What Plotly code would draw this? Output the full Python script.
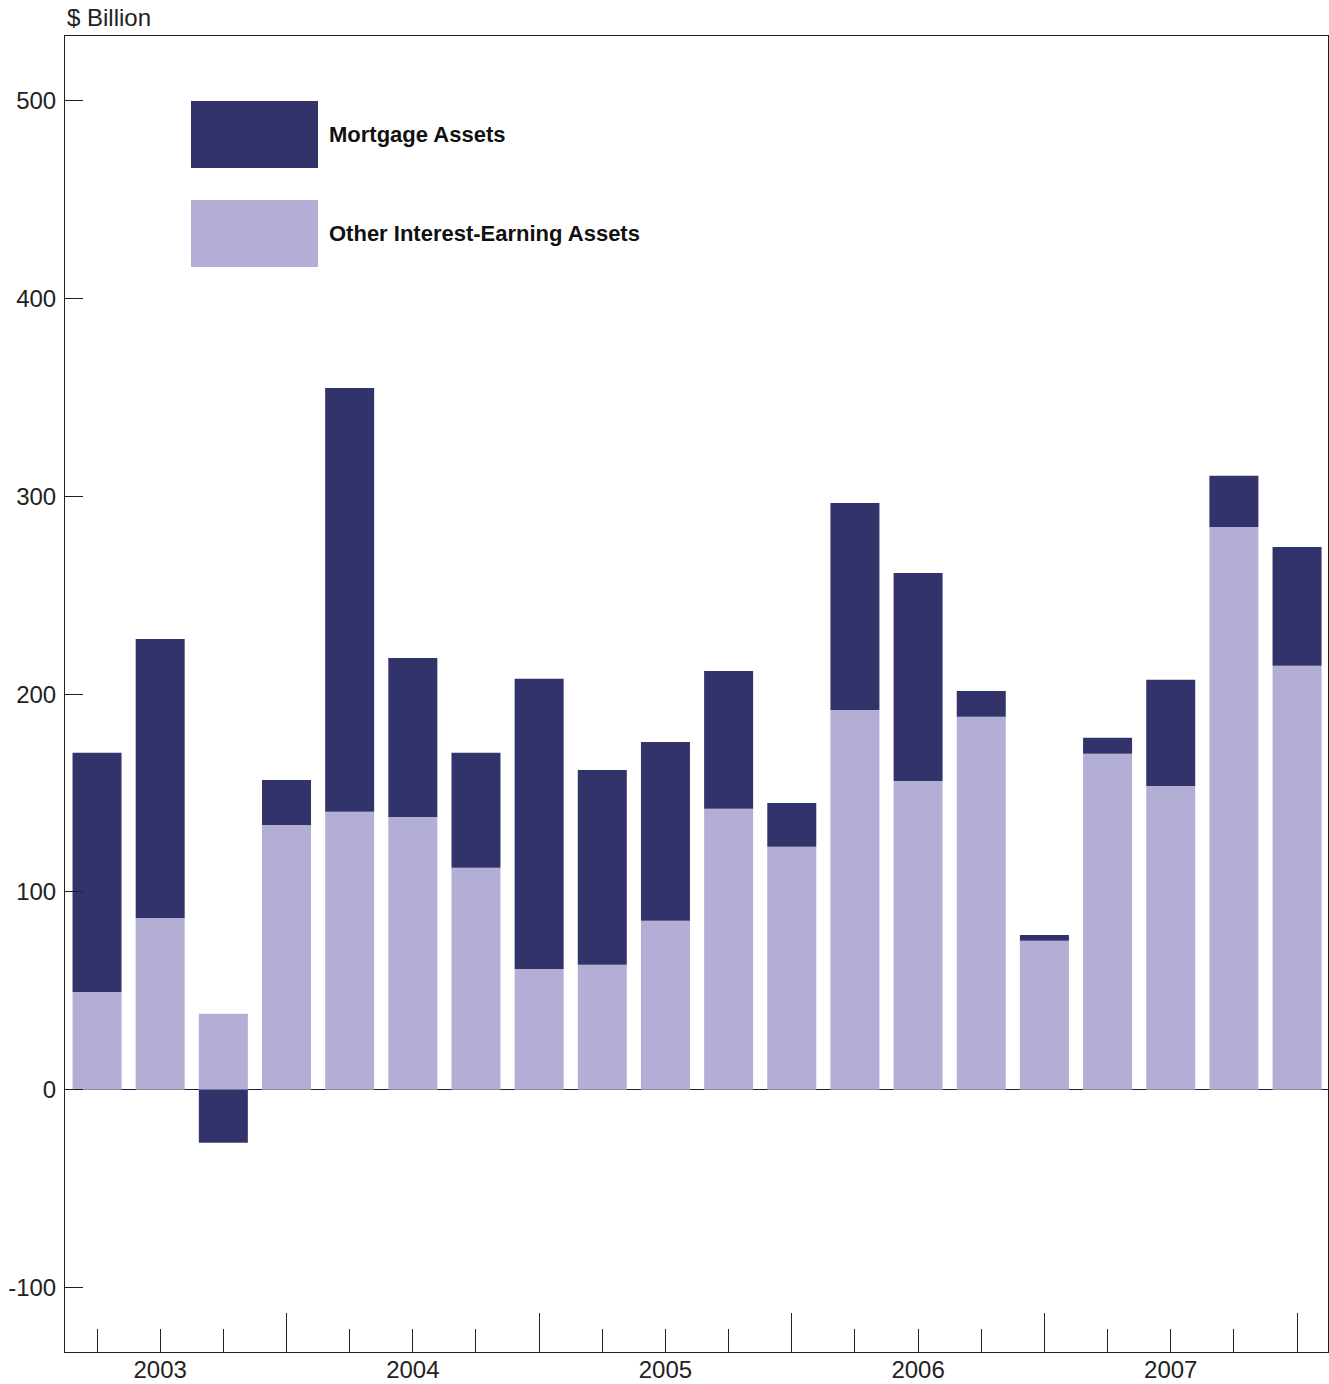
import plotly.graph_objects as go

quarters = ["2003Q1", "2003Q2", "2003Q3", "2003Q4",
            "2004Q1", "2004Q2", "2004Q3", "2004Q4",
            "2005Q1", "2005Q2", "2005Q3", "2005Q4",
            "2006Q1", "2006Q2", "2006Q3", "2006Q4",
            "2007Q1", "2007Q2", "2007Q3", "2007Q4"]
other_assets = [49.5, 86.9, 38.4, 133.9, 140.5, 137.9, 112.2, 61.1, 63.2, 85.4,
                142.0, 122.8, 192.0, 156.1, 188.5, 75.3, 169.8, 153.6, 284.5, 214.3]
mortgage_assets = [120.8, 141.0, -26.8, 22.7, 214.2, 80.4, 58.1, 146.6, 98.5, 90.4,
                   69.7, 22.2, 104.6, 105.1, 13.1, 3.0, 8.1, 53.6, 25.8, 60.1]
years = ["2003", "2004", "2005", "2006", "2007"]
y_ticks = [-100, 0, 100, 200, 300, 400, 500]
y_tick_text = ["-100", "0", "100", "200", "300", "400", "500"]

DARK = "#33336b"
LIGHT = "#b3aed6"
AXIS = "#222222"
FONT = "Liberation Sans, Arial, sans-serif"

x = list(range(len(quarters)))

fig = go.Figure()
fig.add_trace(go.Bar(x=x, y=other_assets, name="Other Interest-Earning Assets",
                     marker=dict(color=LIGHT, line=dict(width=0)),
                     customdata=quarters, hovertemplate="%{customdata}: %{y}<extra></extra>"))
fig.add_trace(go.Bar(x=x, y=mortgage_assets, name="Mortgage Assets",
                     marker=dict(color=DARK, line=dict(width=0)),
                     customdata=quarters, hovertemplate="%{customdata}: %{y}<extra></extra>"))

# x ticks: short ticks at non-Q4 quarters, long ticks at Q4 quarters, labels at Q2
major_vals = [i for i, q in enumerate(quarters) if not q.endswith("Q4")]
major_text = [q[:4] if q.endswith("Q2") else "" for q in quarters if not q.endswith("Q4")]
q4_vals = [i for i, q in enumerate(quarters) if q.endswith("Q4")]

fig.update_layout(
    width=1329, height=1384,
    margin=dict(l=65, r=1, t=36, b=32),
    paper_bgcolor="white", plot_bgcolor="white",
    barmode="relative", bargap=0.224,
    showlegend=False,
    font=dict(family=FONT, size=24, color="#222222"),
    xaxis=dict(range=[-0.507, 19.49], showgrid=False, zeroline=False,
               showline=True, linecolor=AXIS, linewidth=1, mirror=True,
               tickmode="array", tickvals=major_vals, ticktext=major_text,
               ticks="inside", ticklen=23, tickwidth=1, tickcolor=AXIS,
               ticklabelstandoff=-4,
               tickfont=dict(size=24, color="#222222"),
               minor=dict(tickmode="array", tickvals=q4_vals, ticks="inside",
                          ticklen=39, tickwidth=1, tickcolor=AXIS, showgrid=False)),
    yaxis=dict(range=[-132.5, 532.6], showgrid=False,
               zeroline=True, zerolinecolor=AXIS, zerolinewidth=1,
               showline=True, linecolor=AXIS, linewidth=1, mirror=True,
               tickmode="array", tickvals=y_ticks, ticktext=y_tick_text,
               ticks="inside", ticklen=18, tickwidth=1, tickcolor=AXIS,
               ticklabelstandoff=3,
               tickfont=dict(size=24, color="#222222")),
)

# custom legend (large swatches as in original)
def px_x(p):
    return (p - 65) / 1263.0

def px_y(p):
    return (1352 - p) / 1316.0

legend_items = [("Mortgage Assets", DARK, 101, 168), ("Other Interest-Earning Assets", LIGHT, 200, 267)]
for label, color, top, bottom in legend_items:
    fig.add_shape(type="rect", xref="paper", yref="paper",
                  x0=px_x(191), x1=px_x(318), y0=px_y(bottom), y1=px_y(top),
                  fillcolor=color, line=dict(width=0), layer="above")
    fig.add_annotation(xref="paper", yref="paper", x=px_x(327), y=px_y((top + bottom) / 2),
                       xanchor="left", yanchor="middle", showarrow=False,
                       text="<b>" + label + "</b>",
                       font=dict(family=FONT, size=22, color="#111111"))

fig.add_annotation(xref="paper", yref="paper", x=0, y=px_y(17), xanchor="left", yanchor="middle",
                   showarrow=False, text="$ Billion", font=dict(family=FONT, size=24, color="#222222"))

fig.write_html("out.html", config={"displayModeBar": False},
               post_script="document.body.style.margin='0';document.body.style.overflow='hidden';")
